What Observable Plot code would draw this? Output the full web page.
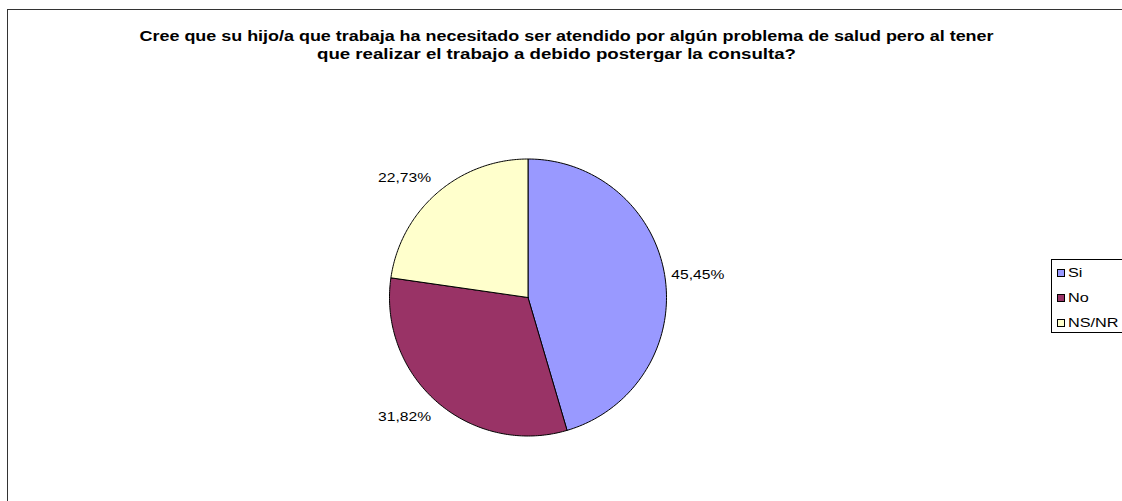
<!DOCTYPE html>
<html><head><meta charset="utf-8">
<script src="https://cdn.jsdelivr.net/npm/d3@7"></script>
<script src="https://cdn.jsdelivr.net/npm/@observablehq/plot@0.6"></script>
<style>
body{margin:0;background:#fff;font-family:"Liberation Sans",Arial,sans-serif;}
#wrap{position:relative;width:1122px;height:501px;overflow:hidden;}
#frame{position:absolute;left:7px;top:9px;width:1200px;height:600px;border:1.5px solid #333;box-sizing:border-box;pointer-events:none;}
#legend{position:absolute;left:1051px;top:259px;width:100px;height:74px;border:1px solid #000;box-sizing:border-box;background:#fff;font-size:12.5px;}
.item{position:absolute;left:5px;height:14px;line-height:14px;white-space:nowrap;}
.sw{display:inline-block;width:6px;height:6px;border:1px solid #000;margin-right:3px;vertical-align:0px;}
.tx{display:inline-block;transform:scaleX(1.3);transform-origin:left center;}
</style></head>
<body><div id="wrap"><div id="chart"></div><div id="frame"></div><div id="legend"></div></div>
<script>
const categories = ["Si", "No", "NS/NR"];
const values = [45.45, 31.82, 22.73];
const labels = ["45,45%", "31,82%", "22,73%"];
const colors = ["#9999FF", "#993366", "#FFFFCC"];
const titleLines = [
  "Cree que su hijo/a que trabaja ha necesitado ser atendido por algún problema de salud pero al tener",
  "que realizar el trabajo a debido postergar la consulta?"
];

const pie = d3.pie().sort(null).value(d => d)(values);
const pts = [];
pie.forEach((s, i) => {
  pts.push({k: categories[i], x: 0, y: 0});
  const n = 120;
  for (let j = 0; j <= n; j++) {
    const a = s.startAngle + (s.endAngle - s.startAngle) * j / n;
    pts.push({k: categories[i], x: Math.sin(a), y: Math.cos(a)});
  }
  pts.push({k: categories[i], x: 0, y: 0});
});
const lab = pie.map((s, i) => {
  const m = (s.startAngle + s.endAngle) / 2;
  const side = Math.sin(m) >= 0 ? 1 : -1;
  return {t: labels[i], side, x: Math.sin(m) + 0.045 * side, y: Math.cos(m) * 1.145};
});

const chart = Plot.plot({
  width: 1122, height: 501,
  margin: 0,
  x: {domain: [-1, 1], range: [389, 666], axis: null},
  y: {domain: [-1, 1], range: [435.5, 158.5], axis: null},
  color: {domain: categories, range: colors},
  style: {fontFamily: "'Liberation Sans', Arial, sans-serif", background: "transparent"},
  marks: [
    Plot.line(pts, {x: "x", y: "y", z: "k", fill: "k", stroke: "#000", strokeWidth: 1, curve: "linear"}),
    Plot.text(lab.filter(d => d.side > 0), {x: "x", y: "y", text: "t", textAnchor: "start", fontSize: 12.5, fill: "#000", className: "plabel"}),
    Plot.text(lab.filter(d => d.side < 0), {x: "x", y: "y", text: "t", textAnchor: "end", fontSize: 12.5, fill: "#000", className: "plabel"}),
    Plot.text([titleLines[0]], {frameAnchor: "top", dx: 5, dy: 31, text: d => d, fontSize: 14, fontWeight: "bold", fill: "#000", className: "t1"}),
    Plot.text([titleLines[1]], {frameAnchor: "top", dx: -5, dy: 49, text: d => d, fontSize: 14, fontWeight: "bold", fill: "#000", className: "t2"})
  ]
});
document.getElementById("chart").appendChild(chart);

// horizontal stretch of text to match the reference rendering
chart.querySelectorAll(".t1 text").forEach(t => { t.setAttribute("textLength", 854); t.setAttribute("lengthAdjust", "spacingAndGlyphs"); });
chart.querySelectorAll(".t2 text").forEach(t => { t.setAttribute("textLength", 479); t.setAttribute("lengthAdjust", "spacingAndGlyphs"); });
chart.querySelectorAll(".plabel text").forEach(t => {
  const L = t.getComputedTextLength();
  t.setAttribute("textLength", (L * 1.25).toFixed(1));
  t.setAttribute("lengthAdjust", "spacingAndGlyphs");
});

const lg = document.getElementById("legend");
categories.forEach((c, i) => {
  const d = document.createElement("div");
  d.className = "item";
  d.style.top = (6 + i * 25) + "px";
  d.innerHTML = `<span class="sw" style="background:${colors[i]}"></span><span class="tx">${c}</span>`;
  lg.appendChild(d);
});
</script></body></html>
